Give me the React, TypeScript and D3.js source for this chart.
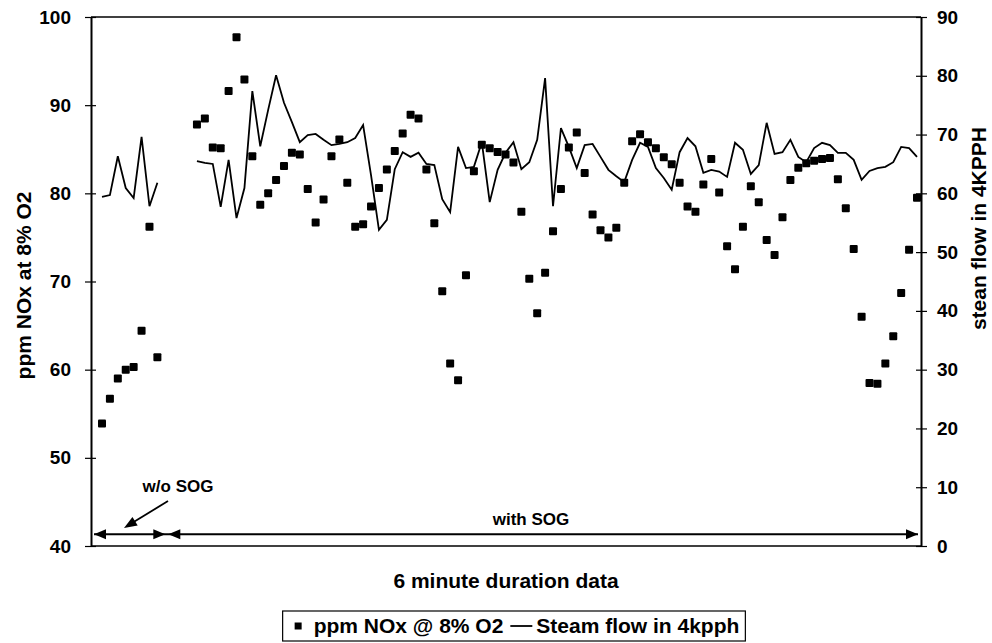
import React, { useRef, useEffect } from 'react';
import * as d3 from 'd3';

// ppm NOx @ 8% O2, one value per 6 minute sample (null = no reading)
const noxValues: (number | null)[] = [
  53.9, 56.7, 59.0, 60.0, 60.3, 64.4, 76.2, 61.4, null, null,
  null, null, 87.8, 88.5, 85.2, 85.1, 91.6, 97.7, 92.9, 84.2,
  78.7, 80.0, 81.5, 83.1, 84.6, 84.4, 80.5, 76.7, 79.3, 84.2,
  86.1, 81.2, 76.2, 76.5, 78.5, 80.6, 82.7, 84.8, 86.8, 88.9,
  88.5, 82.7, 76.6, 68.9, 60.7, 58.8, 70.7, 82.5, 85.5, 85.1,
  84.7, 84.4, 83.5, 77.9, 70.3, 66.4, 71.0, 75.7, 80.5, 85.2,
  86.9, 82.3, 77.6, 75.8, 75.0, 76.1, 81.2, 85.9, 86.7, 85.8,
  85.1, 84.1, 83.3, 81.2, 78.5, 77.9, 81.0, 83.9, 80.1, 74.0,
  71.4, 76.2, 80.8, 79.0, 74.7, 73.0, 77.3, 81.5, 82.9, 83.4,
  83.7, 83.9, 84.0, 81.6, 78.3, 73.7, 66.0, 58.5, 58.4, 60.7,
  63.8, 68.7, 73.6, 79.5,
];

// Steam flow in 4kpph (right axis)
const steamValues: (number | null)[] = [
  59.4, 59.7, 66.3, 60.9, 59.2, 69.6, 57.8, 61.8, null, null,
  null, null, 65.5, 65.2, 65.0, 57.7, 65.7, 55.8, 60.9, 77.4,
  68.0, 74.2, 80.1, 75.4, 72.1, 68.7, 69.9, 70.1, 69.1, 68.2,
  68.4, 68.7, 69.4, 71.6, 63.1, 53.8, 55.5, 64.1, 67.0, 66.2,
  66.9, 65.0, 64.8, 59.0, 56.8, 67.9, 64.3, 64.5, 68.7, 58.5,
  64.0, 66.9, 68.7, 64.1, 65.3, 69.1, 79.6, 57.8, 71.1, 67.9,
  64.3, 68.2, 68.4, 66.2, 64.0, 62.9, 61.9, 65.7, 68.6, 67.9,
  64.3, 62.6, 60.6, 67.0, 69.4, 68.0, 63.5, 64.0, 63.7, 62.8,
  68.6, 67.4, 63.3, 64.8, 72.0, 66.7, 67.0, 69.1, 66.2, 65.3,
  67.7, 68.6, 68.2, 66.9, 66.9, 65.7, 62.3, 63.8, 64.3, 64.5,
  65.3, 67.9, 67.7, 66.2,
];

const leftTicks = [40, 50, 60, 70, 80, 90, 100];
const rightTicks = [0, 10, 20, 30, 40, 50, 60, 70, 80, 90];

const W = 992;
const H = 643;
const FONT = "'Liberation Sans', Arial, Helvetica, sans-serif";

const App = () => {
  const svgRef = useRef<SVGSVGElement | null>(null);

  useEffect(() => {
    if (!svgRef.current) return;
    const svg = d3.select(svgRef.current);
    svg.selectAll('*').remove();

    const margin = { top: 17, right: 71, bottom: 97, left: 91 };
    const left = margin.left;
    const right = W - margin.right;
    const top = margin.top;
    const bottom = H - margin.bottom;

    // categories: first sample sits a little inside the plot area
    const x = d3
      .scaleLinear()
      .domain([0, noxValues.length - 1])
      .range([left + 11, right - 4]);
    const yLeft = d3.scaleLinear().domain([40, 100]).range([bottom, top]);
    const yRight = d3.scaleLinear().domain([0, 90]).range([bottom, top]);

    const g = svg.append('g');

    // frame: top border and bottom line
    g.append('line')
      .attr('x1', left).attr('x2', right)
      .attr('y1', top).attr('y2', top)
      .attr('stroke', '#000').attr('stroke-width', 1.5);
    g.append('line')
      .attr('x1', left).attr('x2', right)
      .attr('y1', bottom).attr('y2', bottom)
      .attr('stroke', '#000').attr('stroke-width', 1.5);

    // left axis
    const yAxisL = g
      .append('g')
      .attr('transform', `translate(${left},0)`)
      .call(d3.axisLeft(yLeft).tickValues(leftTicks).tickSizeInner(6).tickSizeOuter(0).tickPadding(14));
    yAxisL.select('.domain').attr('stroke', '#000').attr('stroke-width', 2);
    yAxisL.selectAll('.tick line').attr('x1', 5).attr('stroke', '#000').attr('stroke-width', 1.2);
    yAxisL.selectAll('text')
      .style('font-family', FONT)
      .style('font-size', '19px')
      .style('font-weight', 'bold')
      .attr('fill', '#000');

    // right axis
    const yAxisR = g
      .append('g')
      .attr('transform', `translate(${right},0)`)
      .call(d3.axisRight(yRight).tickValues(rightTicks).tickSizeInner(6).tickSizeOuter(0).tickPadding(10));
    yAxisR.select('.domain').attr('stroke', '#000').attr('stroke-width', 2);
    yAxisR.selectAll('.tick line').attr('x1', -5).attr('stroke', '#000').attr('stroke-width', 1.2);
    yAxisR.selectAll('text')
      .style('font-family', FONT)
      .style('font-size', '19px')
      .style('font-weight', 'bold')
      .attr('fill', '#000');

    // steam flow line
    const line = d3
      .line<number | null>()
      .defined((d) => d != null)
      .x((_, i) => x(i))
      .y((d) => yRight(d as number));
    g.append('path')
      .datum(steamValues)
      .attr('d', line)
      .attr('fill', 'none')
      .attr('stroke', '#000')
      .attr('stroke-width', 1.8)
      .attr('stroke-linejoin', 'miter');

    // NOx squares
    const sq = 8;
    g.selectAll('.nox')
      .data(noxValues.map((v, i) => ({ v, i })).filter((d) => d.v != null))
      .enter()
      .append('rect')
      .attr('class', 'nox')
      .attr('x', (d) => x(d.i) - sq / 2)
      .attr('y', (d) => yLeft(d.v as number) - sq / 2)
      .attr('width', sq)
      .attr('height', sq)
      .attr('rx', 1)
      .attr('fill', '#000');

    // axis titles
    svg.append('text')
      .attr('transform', `translate(31,${(top + bottom) / 2 + 4}) rotate(-90)`)
      .attr('text-anchor', 'middle')
      .style('font-family', FONT).style('font-size', '21px').style('font-weight', 'bold')
      .text('ppm NOx at 8% O2');
    svg.append('text')
      .attr('transform', `translate(986,${yRight(54)}) rotate(-90)`)
      .attr('text-anchor', 'middle')
      .style('font-family', FONT).style('font-size', '21px').style('font-weight', 'bold')
      .text('stean flow in 4KPPH');
    svg.append('text')
      .attr('x', (left + right) / 2)
      .attr('y', 588)
      .attr('text-anchor', 'middle')
      .style('font-family', FONT).style('font-size', '21px').style('font-weight', 'bold')
      .text('6 minute duration data');

    // SOG annotations
    const arrowY = yRight(2);
    const split = x(8);
    const head = (tipX: number, tipY: number, dir: number) =>
      `M${tipX},${tipY} L${tipX - dir * 12},${tipY - 5} L${tipX - dir * 12},${tipY + 5} Z`;
    const ann = g.append('g').attr('fill', '#000').attr('stroke', '#000');
    ann.append('line')
      .attr('x1', left + 3).attr('x2', right - 3)
      .attr('y1', arrowY).attr('y2', arrowY)
      .attr('stroke-width', 1.8);
    ann.append('path').attr('d', head(left + 3, arrowY, -1)).attr('stroke', 'none');
    ann.append('path').attr('d', head(split, arrowY, 1)).attr('stroke', 'none');
    ann.append('path').attr('d', head(split + 3, arrowY, -1)).attr('stroke', 'none');
    ann.append('path').attr('d', head(right - 3, arrowY, 1)).attr('stroke', 'none');

    // pointer from "w/o SOG" label
    const px1 = 168, py1 = 501, px2 = 124, py2 = 528;
    const ang = Math.atan2(py2 - py1, px2 - px1);
    ann.append('line')
      .attr('x1', px1).attr('y1', py1)
      .attr('x2', px2 - Math.cos(ang) * 8).attr('y2', py2 - Math.sin(ang) * 8)
      .attr('stroke-width', 1.8);
    const hl = 13, hw = 5;
    const bx = px2 - Math.cos(ang) * hl, by = py2 - Math.sin(ang) * hl;
    ann.append('path')
      .attr('d', `M${px2},${py2} L${bx - Math.sin(ang) * hw},${by + Math.cos(ang) * hw} L${bx + Math.sin(ang) * hw},${by - Math.cos(ang) * hw} Z`)
      .attr('stroke', 'none');

    svg.append('text')
      .attr('x', 178).attr('y', 492)
      .attr('text-anchor', 'middle')
      .style('font-family', FONT).style('font-size', '17px').style('font-weight', 'bold')
      .text('w/o SOG');
    svg.append('text')
      .attr('x', 531).attr('y', 525)
      .attr('text-anchor', 'middle')
      .style('font-family', FONT).style('font-size', '17px').style('font-weight', 'bold')
      .text('with SOG');

    // legend
    const legendG = svg.append('g');
    const lgTop = 611;
    const lgH = 30;
    const textY = lgTop + 22;
    const t1 = legendG.append('text')
      .attr('y', textY)
      .style('font-family', FONT).style('font-size', '21px').style('font-weight', 'bold')
      .text('ppm NOx @ 8% O2');
    const t2 = legendG.append('text')
      .attr('y', textY)
      .style('font-family', FONT).style('font-size', '21px').style('font-weight', 'bold')
      .text('Steam flow in 4kpph');
    const w1 = (t1.node() as SVGTextElement).getComputedTextLength();
    const w2 = (t2.node() as SVGTextElement).getComputedTextLength();
    const padL = 12, gapSq = 12, gapLine = 7, lineW = 22, gapT2 = 4, padR = 6;
    const total = padL + 7 + gapSq + w1 + gapLine + lineW + gapT2 + w2 + padR;
    const lgLeft = (left + right) / 2 + 8 - total / 2;
    legendG.insert('rect', 'text')
      .attr('x', lgLeft).attr('y', lgTop)
      .attr('width', total).attr('height', lgH)
      .attr('fill', '#fff').attr('stroke', '#000').attr('stroke-width', 1.2);
    let cx = lgLeft + padL;
    legendG.append('rect')
      .attr('x', cx).attr('y', lgTop + lgH / 2 - 3.5)
      .attr('width', 7).attr('height', 7).attr('fill', '#000');
    cx += 7 + gapSq;
    t1.attr('x', cx);
    cx += w1 + gapLine;
    legendG.append('line')
      .attr('x1', cx).attr('x2', cx + lineW)
      .attr('y1', lgTop + lgH / 2).attr('y2', lgTop + lgH / 2)
      .attr('stroke', '#000').attr('stroke-width', 1.8);
    cx += lineW + gapT2;
    t2.attr('x', cx);

    return () => {
      svg.selectAll('*').remove();
    };
  }, []);

  return (
    <svg
      ref={svgRef}
      width={W}
      height={H}
      viewBox={`0 0 ${W} ${H}`}
      style={{ position: 'absolute', left: 0, top: 0, background: '#fff', display: 'block' }}
    />
  );
};

export default App;
